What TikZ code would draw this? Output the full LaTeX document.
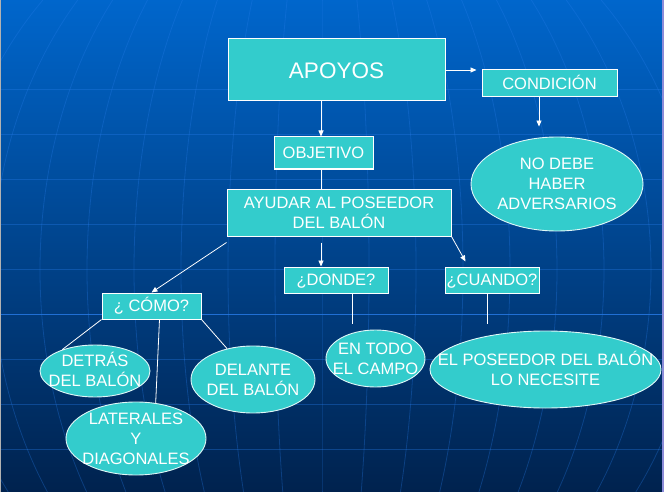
\documentclass[tikz,border=0pt]{standalone}
\usepackage{fontspec}
\setmainfont{Liberation Sans}
\usetikzlibrary{shapes.geometric,arrows.meta}
\definecolor{turq}{RGB}{51,204,204}
\definecolor{bgtop}{RGB}{0,102,204}
\definecolor{bgbot}{RGB}{0,34,78}
\definecolor{gridc}{RGB}{40,125,235}
\newcommand\fs{\fontsize{16.5}{20}\selectfont}
\newcommand\stt{\rule[-4.1pt]{0pt}{20pt}}
\tikzset{
  boxn/.style={draw=white, line width=1pt, fill=turq, text=white, inner sep=0pt, font=\fs, align=center},
  ell/.style={ellipse, draw=white!85!turq, line width=0.9pt, fill=turq, inner sep=0pt},
  lbl/.style={text=white, align=center, font=\fs, inner sep=0pt},
  arr/.style={draw=white, line width=0.8pt, -{Triangle[length=6pt,width=5pt]}},
  ln/.style={draw=white, line width=0.8pt},
  gridl/.style={draw=gridc, line width=0.8pt, opacity=0.35},
}
\begin{document}
\begin{tikzpicture}[x=1pt,y=-1pt]
\useasboundingbox (0,0) rectangle (664,492);
% background
\shade[top color=bgtop, bottom color=bgbot] (0,0) rectangle (664,492);
\foreach \yy in {89,134,179,224,269,359,404,449}
  \draw[gridl] (0,\yy) -- (664,\yy);
\draw[draw=gridc, line width=1pt, opacity=0.8] (0,314) -- (664,314);
\foreach \k in {-8,...,8}
  \draw[gridl, opacity=0.3] plot[domain=0:492, samples=40, smooth] ({322+\k*47*sqrt(1-((\x-270)/403)^2)}, \x);
\fill[gray!60] (0,0) rectangle (1,492);
\fill[gray!50!blue!60] (662,0) rectangle (664,492);

% nodes
\node[boxn, minimum width=217pt, minimum height=62pt, font=\fontsize{22.5}{26}\selectfont] (apoyos) at (336.5,70) {\rule[-4.95pt]{0pt}{26pt}APOYOS};
\node[boxn, minimum width=135pt, minimum height=27pt] (condicion) at (549.5,83.5) {\stt CONDICIÓN};
\node[ell, minimum width=172pt, minimum height=94pt] (nodebe) at (557,184) {};
\node[lbl] (nodebeT) at (nodebe.center) {\stt NO DEBE\\\stt HABER\\\stt ADVERSARIOS};
\node[boxn, minimum width=99pt, minimum height=32pt] (objetivo) at (323.5,153) {\stt OBJETIVO};
\node[boxn, minimum width=224pt, minimum height=47pt] (ayudar) at (339,212.5) {\stt AYUDAR AL POSEEDOR\\\stt DEL BALÓN};
\node[boxn, minimum width=104pt, minimum height=26pt] (donde) at (336,280) {\stt ¿DONDE?};
\node[boxn, minimum width=94pt, minimum height=26pt] (cuando) at (492,280) {\stt ¿CUANDO?};
\node[boxn, minimum width=99pt, minimum height=26pt] (como) at (151.5,306) {\stt ¿ CÓMO?};
\node[ell, minimum width=110pt, minimum height=52pt] (detras) at (95,371) {};
\node[lbl] (detrasT) at (detras.center) {\stt DETRÁS\\\stt DEL BALÓN};
\node[ell, minimum width=140pt, minimum height=73pt] (laterales) at (136,438.5) {};
\node[lbl] (lateralesT) at (laterales.center) {\stt LATERALES\\\stt Y\\\stt DIAGONALES};
\node[ell, minimum width=124pt, minimum height=67pt] (delante) at (253,379.5) {};
\node[lbl] (delanteT) at (delante.center) {\stt DELANTE\\\stt DEL BALÓN};
\node[ell, minimum width=99pt, minimum height=57pt] (entodo) at (375.5,358.5) {};
\node[lbl] (entodoT) at (entodo.center) {\stt EN TODO\\\stt EL CAMPO};
\node[ell, minimum width=231pt, minimum height=77pt] (poseedor) at (545.5,369.5) {};
\node[lbl] (poseedorT) at (poseedor.center) {\stt EL POSEEDOR DEL BALÓN\\\stt LO NECESITE};

\coordinate (spine) at (321,0);
\coordinate (condx) at (539,0);

% connectors
\draw[arr, shorten >=5pt] (apoyos.east) -- (apoyos.east -| condicion.west);
\draw[arr, shorten >=10pt] (condicion.south -| condx) -- (nodebe.north -| condx);
\draw[arr] (apoyos.south -| spine) -- (objetivo.north -| spine);
\draw[ln] (objetivo.south -| spine) -- (ayudar.north -| spine);
\draw[arr] ([yshift=-6pt]ayudar.south -| spine) -- (donde.north -| spine);
\draw[arr] ([yshift=-6pt]ayudar.south west) -- (como.north);
\draw[arr] (ayudar.south east) -- ([shift={(21,-5)}]cuando.north west);
\draw[ln] (como.south west) -- (detras.147);
\draw[ln] ([xshift=8pt]como.south) -- (laterales.61);
\draw[ln] (como.south east) -- (delante.130);
\draw[ln, shorten >=6pt] ([xshift=16pt]donde.south) -- ([xshift=16pt]donde.south |- entodo.north);
\draw[ln, shorten >=7pt] ([xshift=-5pt]cuando.south) -- ([xshift=-5pt]cuando.south |- poseedor.north);
\end{tikzpicture}
\end{document}
